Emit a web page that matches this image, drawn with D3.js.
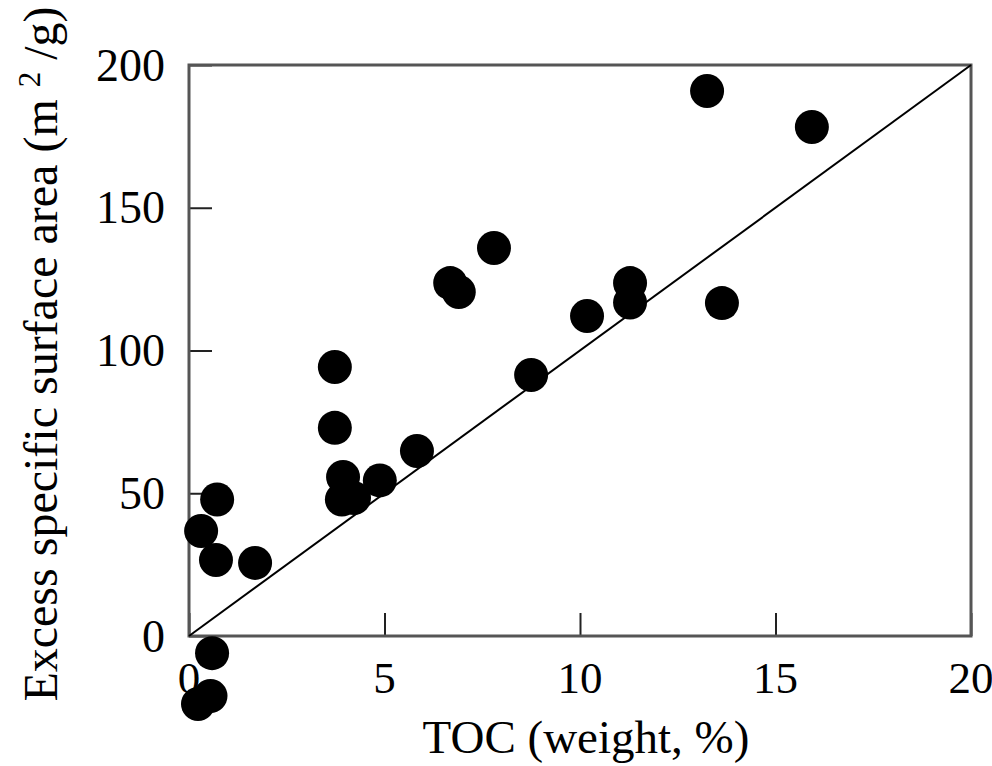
<!DOCTYPE html>
<html>
<head>
<meta charset="utf-8">
<script src="https://cdn.jsdelivr.net/npm/d3@7"></script>
<style>
  body { margin: 0; background: #fff; }
  text { font-family: "Liberation Serif", "Times New Roman", serif; fill: #000; }
</style>
</head>
<body>
<svg></svg>
<script>
// values
const tocValues  = [13.25, 15.93, 7.80, 6.68, 6.90, 11.28, 11.28, 13.63, 10.18, 8.75, 3.73, 3.73, 5.83, 3.94, 3.91, 4.22, 4.88, 0.72, 0.31, 0.69, 1.69, 0.59, 0.55, 0.23];
const areaValues = [190.9, 178.3, 135.9, 123.6, 120.5, 123.6, 116.8, 116.6, 112.1, 91.4, 94.2, 72.9, 64.8, 55.7, 47.8, 48.3, 54.5, 47.8, 36.8, 26.6, 25.6, -6.0, -21.0, -23.8];
const xTicks = [0, 5, 10, 15, 20];
const yTicks = [0, 50, 100, 150, 200];
const linePoints = [[0, 0], [20, 200]];

let width = 992, height = 766,
    plotLeft = 189, plotRight = 971, plotTop = 65, plotBottom = 636,
    xScale = d3.scaleLinear().domain([0, 20]).range([plotLeft, plotRight]),
    yScale = d3.scaleLinear().domain([0, 200]).range([plotBottom, plotTop]),
    svg = d3.select("svg").attr("width", width).attr("height", height);

// inner ticks
svg.append("g")
    .attr("transform", `translate(0,${plotBottom})`)
    .call(d3.axisTop(xScale).tickValues(xTicks).tickSize(23).tickFormat(""))
    .call(g => g.select(".domain").remove())
    .call(g => g.selectAll("line").attr("stroke", "#222").attr("stroke-width", 2));

svg.append("g")
    .attr("transform", `translate(${plotLeft},0)`)
    .call(d3.axisRight(yScale).tickValues(yTicks).tickSize(23).tickFormat(""))
    .call(g => g.select(".domain").remove())
    .call(g => g.selectAll("line").attr("stroke", "#222").attr("stroke-width", 2));

// tick labels
svg.append("g").selectAll("text")
    .data(xTicks).enter().append("text")
    .attr("x", d => xScale(d))
    .attr("y", 693)
    .attr("text-anchor", "middle")
    .attr("font-size", 45)
    .text(d => d);

svg.append("g").selectAll("text")
    .data(yTicks).enter().append("text")
    .attr("x", 165)
    .attr("y", d => yScale(d))
    .attr("dy", "0.34em")
    .attr("text-anchor", "end")
    .attr("font-size", 46)
    .text(d => d);

// frame
svg.append("rect")
    .attr("x", plotLeft).attr("y", plotTop)
    .attr("width", plotRight - plotLeft).attr("height", plotBottom - plotTop)
    .attr("fill", "none")
    .attr("stroke", "#555")
    .attr("stroke-width", 3);

// 1:1 line
svg.append("path")
    .datum(linePoints)
    .attr("d", d3.line().x(d => xScale(d[0])).y(d => yScale(d[1])))
    .attr("stroke", "#000")
    .attr("stroke-width", 2)
    .attr("fill", "none");

// points
svg.append("g").selectAll("circle")
    .data(tocValues).enter().append("circle")
    .attr("cx", d => xScale(d))
    .attr("cy", (d, i) => yScale(areaValues[i]))
    .attr("r", 17)
    .attr("fill", "#000");

// axis titles
svg.append("text")
    .attr("x", (plotLeft + plotRight) / 2 + 6)
    .attr("y", 753)
    .attr("text-anchor", "middle")
    .attr("font-size", 47)
    .text("TOC (weight, %)");

let yTitle = svg.append("text")
    .attr("transform", `translate(57,354) rotate(-90)`)
    .attr("text-anchor", "middle")
    .attr("font-size", 48);
yTitle.append("tspan").text("Excess specific surface area (m ");
yTitle.append("tspan").attr("font-size", 31).attr("dy", -17).text("2");
yTitle.append("tspan").attr("dy", 17).text(" /g)");
</script>
</body>
</html>
